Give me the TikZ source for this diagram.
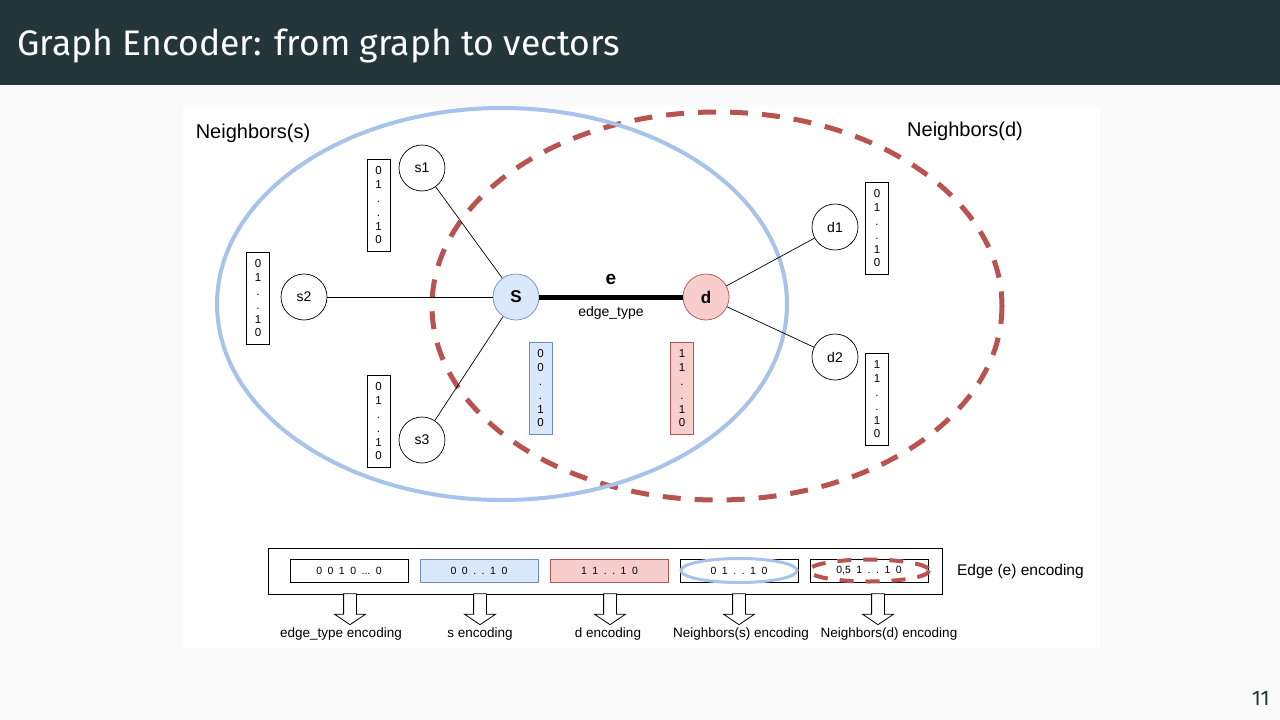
\documentclass[tikz,border=0pt]{standalone}
\usepackage{fontspec}
\setmainfont{Liberation Sans}
\newfontfamily\slidefont{Fira Sans}
\usetikzlibrary{positioning}
\usetikzlibrary{shapes.arrows}

\definecolor{bardark}{RGB}{35,55,59}
\definecolor{slidebg}{RGB}{250,250,250}
\definecolor{nbsblue}{RGB}{167,195,234}
\definecolor{nbdred}{RGB}{184,84,80}
\definecolor{sfill}{RGB}{218,232,252}
\definecolor{sline}{RGB}{108,142,191}
\definecolor{dfill}{RGB}{248,206,204}

\newcommand\gap{\hspace{5.5pt}}

\tikzset{
  gnode/.style={circle, draw, line width=0.7pt, fill=white, inner sep=0pt,
    minimum size=46pt, font=\fontsize{14}{16}\selectfont},
  vecbox/.style={draw, line width=1pt, fill=white, inner sep=0pt,
    minimum width=23pt, minimum height=92pt, align=center,
    font=\fontsize{11.5}{13.8}\selectfont},
  encbox/.style={draw, line width=1pt, inner sep=0pt, minimum width=118pt,
    minimum height=23pt, font=\fontsize{10.5}{12}\selectfont},
  downarrow/.style={single arrow, draw, line width=0.8pt, fill=white,
    shape border rotate=270, inner sep=6pt, minimum height=31pt,
    single arrow head extend=9pt, single arrow tip angle=112,
    single arrow head indent=0pt},
  enclabel/.style={font=\fontsize{13.5}{16}\selectfont},
  nblabel/.style={font=\fontsize{20}{24}\selectfont},
  nbs/.style={nbsblue, line width=4pt},
  nbd/.style={nbdred, line width=5pt, dash pattern=on 18pt off 14pt},
}

\begin{document}
\begin{tikzpicture}[x=1pt,y=-1pt]

  % Slide
  \fill[slidebg] (0,0) rectangle (1280,720);
  \fill[bardark] (0,0) rectangle (1280,85);
  \fill[white] (183,107) rectangle (1100,648);
  \node[anchor=base west, text=white, inner sep=0pt,
    font=\slidefont\fontsize{35.5}{40}\selectfont] (title) at (17,55)
    {Graph Encoder: from graph to vectors};
  \node[anchor=base east, text=bardark, inner sep=0pt,
    font=\slidefont\fontsize{21}{24}\selectfont] (pagenum) at (1270,705) {11};

  % Neighborhoods
  \draw[nbd] (717,306) ellipse [x radius=285, y radius=194];
  \draw[nbs] (502,304) ellipse [x radius=285, y radius=196];
  \node[nblabel] (nbslabel) at (253,133) {Neighbors(s)};
  \node[nblabel] (nbdlabel) at (965,131) {Neighbors(d)};

  % Define nodes
  \node[gnode, fill=sfill, draw=sline, font=\bfseries\fontsize{17}{20}\selectfont] (s) at (516,297) {S};
  \node[gnode, fill=dfill, draw=nbdred, font=\bfseries\fontsize{17}{20}\selectfont] (d) at (706,297) {d};
  \node[gnode] (s1) at (422,168) {s1};
  \node[gnode] (s2) at (304,297) {s2};
  \node[gnode] (s3) at (422,440) {s3};
  \node[gnode] (d1) at (835,227) {d1};
  \node[gnode] (d2) at (835,357) {d2};

  % Feature vectors
  \node[vecbox] (s1vec) at (378.5,205.5) {0\\1\\.\\.\\1\\0};
  \node[vecbox] (s2vec) at (258,298.5) {0\\1\\.\\.\\1\\0};
  \node[vecbox] (s3vec) at (378.5,421.5) {0\\1\\.\\.\\1\\0};
  \node[vecbox, fill=sfill, draw=sline] (svec) at (540.5,388.5) {0\\0\\.\\.\\1\\0};
  \node[vecbox, fill=dfill, draw=nbdred] (dvec) at (682,388.5) {1\\1\\.\\.\\1\\0};
  \node[vecbox] (d1vec) at (877,228.5) {0\\1\\.\\.\\1\\0};
  \node[vecbox] (d2vec) at (877,399.5) {1\\1\\.\\.\\1\\0};

  % Connect nodes
  \draw[line width=0.7pt] (s) -- (s1);
  \draw[line width=0.7pt] (s) -- (s2);
  \draw[line width=0.7pt] (s) -- (s3);
  \draw[line width=0.7pt] (d) -- (d1);
  \draw[line width=0.7pt] (d) -- (d2);
  \draw[line width=5pt] (s) -- node[above=6pt, font=\bfseries\fontsize{19}{22}\selectfont] (elabel) {e}
    node[below=4pt, font=\fontsize{14}{16}\selectfont] (etype) {edge\_type} (d);

  % Edge encoding
  \node[draw, line width=1pt, inner sep=0pt, minimum width=674pt, minimum height=46pt] (enc) at (605,571) {};
  \node[encbox] (etenc) at (349,570.5) {0\gap0\gap1\gap0\gap...\gap0};
  \node[encbox, fill=sfill, draw=sline] (senc) at (479,570.5) {0\gap0\gap.\gap.\gap1\gap0};
  \node[encbox, fill=dfill, draw=nbdred] (denc) at (609.5,570.5) {1\gap1\gap.\gap.\gap1\gap0};
  \node[encbox] (nsenc) at (739,570.5) {0\gap1\gap.\gap.\gap1\gap0};
  \node[encbox] (ndenc) at (869,570.5) {0,5\gap1\gap.\gap.\gap1\gap0};
  \draw[nbsblue, line width=3pt] (nsenc.center) ellipse [x radius=58, y radius=12];
  \draw[nbdred, line width=4pt, dash pattern=on 14pt off 12pt] (ndenc.center) ellipse [x radius=60, y radius=11];
  \node[right=11pt of enc, font=\fontsize{15.5}{18}\selectfont] (enclabel) {Edge (e) encoding};

  % Outputs
  \foreach \name/\x/\lx/\txt in {et/350/341/edge\_type encoding, s/480/480/s encoding,
      d/610/608/d encoding, ns/739/741/Neighbors(s) encoding, nd/878/889/Neighbors(d) encoding} {
    \node[downarrow] (\name arrow) at (\x,607) {};
    \node[enclabel] (\name out) at (\lx,634) {\txt};
  }

\end{tikzpicture}
\end{document}
